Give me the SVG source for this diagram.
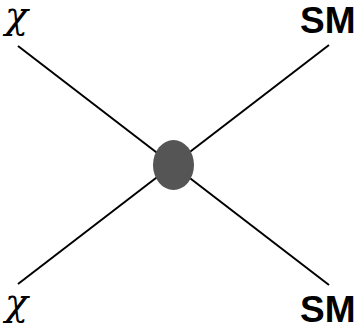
<svg xmlns="http://www.w3.org/2000/svg" width="357" height="326" viewBox="0 0 357 326">
  <style>
    .leg { stroke: #000; stroke-width: 2; fill: none; }
    .chi { font-family: "DejaVu Serif", "Liberation Serif", serif; font-style: italic; font-size: 38px; fill: #000; }
    .sm { font-family: "Liberation Sans", Arial, sans-serif; font-weight: bold; font-size: 37px; fill: #000; }
  </style>
  <rect width="357" height="326" fill="#fff"/>
  <g id="connectors">
    <line class="leg" x1="18" y1="46" x2="329" y2="285"/>
    <line class="leg" x1="18" y1="284" x2="329" y2="45"/>
  </g>
  <g id="vertex">
    <ellipse cx="173.5" cy="165" rx="20.5" ry="25" fill="#555"/>
  </g>
  <g id="chi-in-top"><text class="chi" x="5" y="28">χ</text></g>
  <g id="chi-in-bottom"><text class="chi" x="5" y="315">χ</text></g>
  <g id="sm-out-top"><text class="sm" x="300" y="33">SM</text></g>
  <g id="sm-out-bottom"><text class="sm" x="300" y="322">SM</text></g>
</svg>
